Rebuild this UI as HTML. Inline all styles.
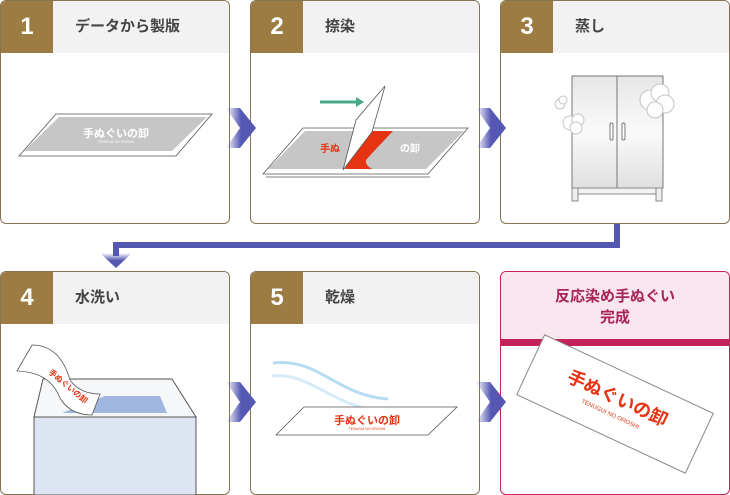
<!DOCTYPE html>
<html><head><meta charset="utf-8">
<style>
body{margin:0;width:730px;height:495px;background:#fff;position:relative;overflow:hidden;font-family:"Liberation Sans","Noto Sans CJK JP",sans-serif}
.p{position:absolute;width:228px;height:222px;border:1px solid #857653;border-radius:6px;overflow:hidden;background:#fff}
.h{position:absolute;left:0;top:0;width:228px;height:52px;background:#f2f2f2}
.n{position:absolute;left:0;top:0;width:52px;height:52px;background:#9c7c42;color:#fff;font-size:24px;font-weight:bold;text-align:center;line-height:52px}
.t{position:absolute;left:74px;top:0;line-height:52px;font-size:15px;font-weight:bold;color:#444}
svg{position:absolute;left:0;top:0}
</style></head><body>
<div class="p" style="left:0;top:0"><div class="h"></div><div class="n">1</div><div class="t">データから製版</div></div>
<div class="p" style="left:250px;top:0"><div class="h"></div><div class="n">2</div><div class="t">捺染</div></div>
<div class="p" style="left:500px;top:0"><div class="h"></div><div class="n">3</div><div class="t">蒸し</div></div>
<div class="p" style="left:0;top:271px"><div class="h"></div><div class="n">4</div><div class="t">水洗い</div></div>
<div class="p" style="left:250px;top:271px"><div class="h"></div><div class="n">5</div><div class="t">乾燥</div></div>
<div class="p" style="left:500px;top:271px;border-color:#c8215a">
 <div style="position:absolute;left:0;top:0;width:228px;height:67px;background:#f9e6ee;border-bottom:7px solid #c4215a"></div>
 <div style="position:absolute;left:0;top:14px;width:228px;text-align:center;font-size:15px;font-weight:bold;color:#a8245a;line-height:21px">反応染め手ぬぐい<br>完成</div>
</div>
<svg width="730" height="495" viewBox="0 0 730 495">
<defs>
<linearGradient id="g" x1="0" x2="1"><stop offset="0" stop-color="#5558b3" stop-opacity="0"/><stop offset="0.5" stop-color="#5558b3"/></linearGradient>
<linearGradient id="gd" x1="0" y1="0" x2="0" y2="1"><stop offset="0" stop-color="#5558b3" stop-opacity="0"/><stop offset="0.5" stop-color="#5558b3"/></linearGradient>
<linearGradient id="cab" x1="0" y1="0" x2="0" y2="1"><stop offset="0" stop-color="#e6e6e6"/><stop offset="0.5" stop-color="#fafafa"/><stop offset="1" stop-color="#e0e0e0"/></linearGradient>
</defs>
<g fill="url(#g)">
<polygon points="226,108 240,108 256,128 240,148 226,148 240,128"/>
<polygon points="476,108 490,108 506,128 490,148 476,148 490,128"/>
<polygon points="226,382 240,382 256,402 240,422 226,422 240,402"/>
<polygon points="476,382 490,382 506,402 490,422 476,422 490,402"/>
</g>
<path d="M617 224 V245 H116 V256" stroke="#5558b3" stroke-width="6" fill="none"/>
<polygon points="100,253 132,253 116,268" fill="url(#gd)"/>
<!-- panel1 plate -->
<polygon points="19,156 56,114 212,114 176,156" fill="#fff" stroke="#555" stroke-width="0.8"/>
<polygon points="24,151 59,117 207,117 172,151" fill="#c6c6c6"/>
<text x="116" y="137" font-size="11" font-weight="bold" fill="#fff" text-anchor="middle">手ぬぐいの卸</text>
<text x="116" y="143" font-size="3.5" fill="#fff" text-anchor="middle">TENUGUI NO OROSHI</text>
<!-- panel2 -->
<polygon points="263,174 303,128 468,128 428,174" fill="#fff" stroke="#555" stroke-width="0.8"/>
<polygon points="268,169 305,131 464,131 426,169" fill="#c6c6c6"/>
<path d="M345,169 L365,131 L393,131 Q375,150 366,160 Q365,165 372,169 Z" fill="#e63312"/>
<text x="330" y="152" font-size="10" font-weight="bold" fill="#e63312" text-anchor="middle">手ぬ</text>
<text x="410" y="152" font-size="10" font-weight="bold" fill="#fff" text-anchor="middle">の卸</text>
<line x1="266" y1="177" x2="430" y2="177" stroke="#555" stroke-width="0.8"/>
<polygon points="343,170 356,120 385,86 372,132" fill="#fff" stroke="#555" stroke-width="0.8"/>
<line x1="320" y1="102" x2="358" y2="102" stroke="#4aa888" stroke-width="3"/>
<polygon points="356,97 364,102 356,107" fill="#4aa888"/>
<!-- panel3 cabinet -->
<rect x="572" y="76" width="91" height="112" fill="url(#cab)" stroke="#777"/>
<line x1="617" y1="76" x2="617" y2="188" stroke="#777"/>
<rect x="610" y="123" width="3" height="17" rx="1.5" fill="#fff" stroke="#777"/>
<rect x="622" y="123" width="3" height="17" rx="1.5" fill="#fff" stroke="#777"/>
<rect x="578" y="188" width="80" height="6" fill="#f2f2f2" stroke="#888"/>
<rect x="572" y="188" width="6" height="13" fill="#eee" stroke="#888"/>
<rect x="656" y="188" width="6" height="13" fill="#eee" stroke="#888"/>
<g fill="#fff" stroke="#c4c4c4">
<circle cx="560" cy="104" r="5"/><circle cx="563" cy="100" r="4"/>
<circle cx="570" cy="123" r="7"/><circle cx="578" cy="120" r="6"/><circle cx="576" cy="128" r="6"/>
<circle cx="650" cy="100" r="10"/><circle cx="660" cy="93" r="9"/><circle cx="665" cy="104" r="9"/><circle cx="655" cy="110" r="8"/>
</g>
<!-- panel4 tub -->
<rect x="34" y="417" width="162" height="78" fill="#dde5f3" stroke="#555"/>
<polygon points="34,417 43,379 172,379 196,417" fill="#f6f7f9" stroke="#555"/>
<polygon points="62,413 105,396 160,396 167,413" fill="#9fb6df"/>
<path d="M17,371 L32,345 Q60,345 70,380 Q80,394 100,394 L92,415 Q70,415 60,398 Q50,372 17,371Z" fill="#fff" stroke="#555" stroke-width="0.8"/>
<text x="48" y="373" font-size="8" font-weight="bold" fill="#e63312" transform="rotate(40 48 373)">手ぬぐいの卸</text>
<!-- panel5 -->
<path d="M273,363 C320,358 335,395 388,399" stroke="#b6dcf2" stroke-width="3" fill="none"/>
<path d="M272,376 C310,372 330,405 380,411" stroke="#d6ebf8" stroke-width="3" fill="none"/>
<polygon points="276,435 304,407 457,407 428,435" fill="#fff" stroke="#555" stroke-width="0.8"/>
<text x="367" y="424" font-size="11" font-weight="bold" fill="#e63312" text-anchor="middle">手ぬぐいの卸</text>
<text x="367" y="430" font-size="3.5" fill="#e63312" text-anchor="middle">TENUGUI NO OROSHI</text>
<!-- panel6 towel -->
<g transform="translate(615,404) rotate(25)">
<rect x="-93" y="-33" width="186" height="66" fill="#fff" stroke="#888"/>
<text x="0" y="0" font-size="18" font-weight="bold" fill="#e63312" text-anchor="middle">手ぬぐいの卸</text>
<text x="0" y="13" font-size="6" fill="#e63312" text-anchor="middle">TENUGUI NO OROSHI</text>
</g>
</svg>
</body></html>
